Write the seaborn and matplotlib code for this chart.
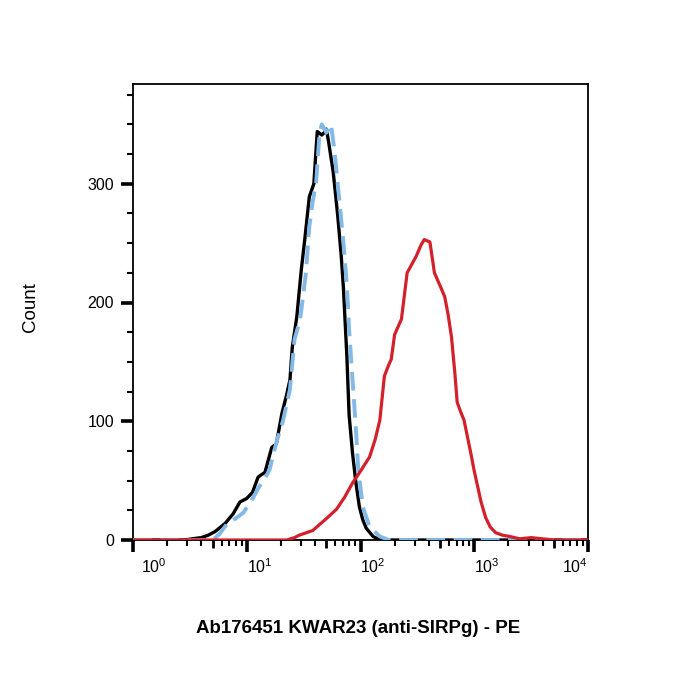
import numpy as np
import pandas as pd
import matplotlib
matplotlib.use("Agg")
import matplotlib.pyplot as plt
from matplotlib.ticker import FixedLocator, MultipleLocator, NullFormatter
from matplotlib.transforms import ScaledTranslation
import seaborn as sns

# log10(PE intensity) and event counts
black_log = [0.0, 0.45, 0.52, 0.60, 0.66, 0.72, 0.81, 0.88, 0.94, 1.00, 1.05, 1.10, 1.16,
             1.22, 1.26, 1.31, 1.35, 1.38, 1.40, 1.44, 1.48, 1.51, 1.55, 1.59, 1.61, 1.62,
             1.66, 1.68, 1.70, 1.72, 1.76, 1.80, 1.83, 1.85, 1.88, 1.90, 1.93, 1.96, 1.99,
             2.02, 2.05, 2.11, 2.17, 4.0]
black_count = [0, 0, 1, 2, 4, 7, 14, 22, 32, 35, 40, 53, 57,
               78, 81, 107, 122, 135, 162, 188, 228, 253, 289, 300, 330, 344,
               341, 343, 346, 335, 310, 273, 240, 212, 155, 105, 73, 48, 28,
               17, 10, 3, 0, 0]

blue_log = [0.0, 0.70, 0.76, 0.83, 0.90, 0.97, 1.04, 1.11, 1.16, 1.20, 1.26, 1.32, 1.38,
            1.42, 1.47, 1.52, 1.55, 1.58, 1.61, 1.64, 1.66, 1.70, 1.74, 1.77, 1.82, 1.85,
            1.88, 1.90, 1.93, 1.96, 1.98, 2.02, 2.08, 2.17, 2.25, 4.0]
blue_count = [0, 0, 5, 14, 18, 23, 33, 45, 52, 59, 82, 101, 127,
              169, 186, 225, 264, 285, 301, 343, 350, 343, 350, 329, 280, 250,
              215, 177, 135, 93, 60, 28, 11, 3, 0, 0]

red_log = [0.0, 1.35, 1.42, 1.46, 1.52, 1.58, 1.64, 1.70, 1.79, 1.86, 1.93, 2.00, 2.08,
           2.13, 2.17, 2.21, 2.25, 2.27, 2.30, 2.36, 2.41, 2.45, 2.49, 2.53, 2.56, 2.61,
           2.63, 2.65, 2.70, 2.74, 2.77, 2.80, 2.83, 2.85, 2.88, 2.91, 2.94, 2.97, 3.00,
           3.03, 3.06, 3.10, 3.14, 3.19, 3.25, 3.31, 3.40, 3.50, 3.60, 3.70, 4.0]
red_count = [0, 0, 2, 4, 6, 8, 13, 18, 26, 36, 48, 58, 70,
             85, 101, 138, 148, 152, 173, 186, 225, 232, 239, 248, 253, 251,
             238, 225, 214, 205, 190, 171, 140, 116, 108, 101, 87, 73, 58,
             45, 32, 19, 11, 6, 4, 3, 1, 2, 1, 0, 0]

decades = [1, 10, 100, 1000, 10000]
decade_labels = ["10$^{0}$", "10$^{1}$", "10$^{2}$", "10$^{3}$", "10$^{4}$"]
y_major = [0, 100, 200, 300]

sns.set_style("ticks")
plt.rcParams["font.family"] = ["Liberation Sans", "DejaVu Sans"]
plt.rcParams["mathtext.fontset"] = "custom"
plt.rcParams["mathtext.rm"] = "Liberation Sans"
plt.rcParams["mathtext.default"] = "rm"
plt.rcParams["text.color"] = "black"
plt.rcParams["axes.labelcolor"] = "black"

fig = plt.figure(figsize=(7, 7), dpi=100)
ax = fig.add_axes([133 / 700, 160 / 700, 455 / 700, 456 / 700])

sns.lineplot(x=10 ** np.array(black_log), y=black_count, color="black", lw=2.4,
             sort=False, errorbar=None, ax=ax, zorder=3)
sns.lineplot(x=10 ** np.array(blue_log), y=blue_count, color="#82b9e6", lw=2.8,
             linestyle=(0, (4.8, 2.2)), sort=False, errorbar=None, ax=ax, zorder=4)
sns.lineplot(x=10 ** np.array(red_log), y=red_count, color="#d3202a", lw=2.3,
             sort=False, errorbar=None, ax=ax, zorder=5)

ax.set_xscale("log")
ax.set_xlim(1, 10000)
ax.set_ylim(0, 384)

# x ticks: decades, small minors, medium tick at 5
ax.xaxis.set_major_locator(FixedLocator(decades))
ax.set_xticklabels(decade_labels)
minors = [m * d for d in decades[:-1] for m in (2, 3, 4, 6, 7, 8, 9)]
ax.xaxis.set_minor_locator(FixedLocator(minors))
ax.xaxis.set_minor_formatter(NullFormatter())
sec = ax.secondary_xaxis("bottom")
sec.set_xticks([5 * d for d in decades[:-1]])
sec.set_xticklabels([])
sec.spines["bottom"].set_visible(False)
sec.tick_params(axis="x", length=6, width=2.0, color="black")

ax.yaxis.set_major_locator(FixedLocator(y_major))
ax.yaxis.set_minor_locator(MultipleLocator(25))

ax.tick_params(which="major", length=8.6, width=2.6, color="black", labelsize=11.5,
               labelcolor="black")
ax.tick_params(axis="x", which="major", pad=4)
ax.tick_params(axis="y", which="major", pad=5)
ax.tick_params(which="minor", length=4.0, width=1.5, color="black")

labels = ax.get_xticklabels()
for lab in labels[:-1]:
    lab.set_horizontalalignment("left")
labels[-1].set_horizontalalignment("right")
labels[0].set_transform(labels[0].get_transform() +
                        ScaledTranslation(6 / 72, 0, fig.dpi_scale_trans))

for side in ["left", "right", "top", "bottom"]:
    ax.spines[side].set_visible(True)
    ax.spines[side].set_linewidth(1.3)
    ax.spines[side].set_color("black")

ax.set_xlabel("Ab176451 KWAR23 (anti-SIRPg) - PE", fontsize=13.5, fontweight="bold",
              color="black")
ax.xaxis.set_label_coords(0.494, -0.176)
ax.set_ylabel("Count", fontsize=13.5, color="black")
ax.yaxis.set_label_coords(-0.207, 0.51)

fig.savefig("out.png", dpi=100, facecolor="white")
